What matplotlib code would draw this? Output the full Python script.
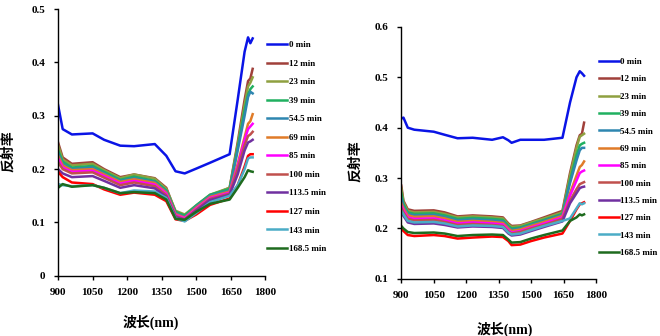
import matplotlib.pyplot as plt

plt.rcParams['font.family'] = ['Liberation Serif', 'Noto Sans CJK SC']
plt.rcParams['font.weight'] = 'bold'

labels = ["0 min", "12 min", "23 min", "39 min", "54.5 min", "69 min", "85 min",
          "100 min", "113.5 min", "127 min", "143 min", "168.5 min"]
colors = ["#0A14E6", "#A0403A", "#8FA040", "#20B060", "#2E86B0", "#E07B28",
          "#FF00FF", "#C0504D", "#7030A0", "#FF0000", "#4BACC6", "#1E6B1E"]

# left panel
wl_a = [900, 920, 960, 1050, 1100, 1170, 1230, 1320, 1370, 1410, 1450, 1500,
        1560, 1645, 1680, 1710, 1725, 1735, 1745]
refl_a = [
    [0.32, 0.275, 0.265, 0.267, 0.255, 0.244, 0.243, 0.247, 0.225, 0.196, 0.192, 0.201, 0.212, 0.228, 0.33, 0.42, 0.447, 0.436, 0.445],
    [0.25, 0.222, 0.21, 0.213, 0.2, 0.185, 0.19, 0.183, 0.165, 0.12, 0.112, 0.13, 0.15, 0.165, 0.25, 0.33, 0.365, 0.37, 0.388],
    [0.245, 0.218, 0.207, 0.21, 0.198, 0.183, 0.19, 0.182, 0.163, 0.122, 0.115, 0.132, 0.152, 0.165, 0.245, 0.32, 0.355, 0.362, 0.372],
    [0.235, 0.214, 0.203, 0.206, 0.195, 0.18, 0.186, 0.178, 0.16, 0.12, 0.113, 0.132, 0.152, 0.163, 0.24, 0.31, 0.34, 0.35, 0.355],
    [0.23, 0.21, 0.2, 0.203, 0.192, 0.178, 0.183, 0.176, 0.158, 0.118, 0.11, 0.13, 0.15, 0.16, 0.235, 0.3, 0.335, 0.345, 0.342],
    [0.225, 0.207, 0.198, 0.2, 0.19, 0.176, 0.181, 0.174, 0.156, 0.116, 0.109, 0.128, 0.148, 0.158, 0.21, 0.26, 0.285, 0.29, 0.303],
    [0.22, 0.203, 0.195, 0.197, 0.187, 0.173, 0.178, 0.171, 0.154, 0.114, 0.108, 0.126, 0.146, 0.156, 0.205, 0.255, 0.275, 0.28, 0.285],
    [0.213, 0.2, 0.192, 0.194, 0.184, 0.17, 0.175, 0.168, 0.151, 0.112, 0.106, 0.124, 0.144, 0.154, 0.2, 0.245, 0.262, 0.265, 0.27],
    [0.2, 0.192, 0.185, 0.187, 0.178, 0.165, 0.17, 0.164, 0.148, 0.11, 0.105, 0.122, 0.142, 0.152, 0.19, 0.235, 0.25, 0.252, 0.255],
    [0.195, 0.185, 0.175, 0.172, 0.162, 0.152, 0.156, 0.152, 0.14, 0.106, 0.103, 0.115, 0.133, 0.145, 0.17, 0.205, 0.225, 0.228, 0.228],
    [0.172, 0.17, 0.168, 0.17, 0.165, 0.155, 0.16, 0.158, 0.146, 0.108, 0.102, 0.118, 0.138, 0.15, 0.17, 0.2, 0.22, 0.222, 0.222],
    [0.165, 0.172, 0.167, 0.17, 0.165, 0.155, 0.157, 0.155, 0.143, 0.107, 0.105, 0.12, 0.135, 0.143, 0.165, 0.185, 0.198, 0.196, 0.195],
]

# right panel
wl_b = [900, 910, 930, 960, 1050, 1100, 1160, 1230, 1320, 1370, 1395, 1410, 1450,
        1500, 1560, 1645, 1680, 1710, 1725, 1735, 1745]
refl_b = [
    [0.418, 0.42, 0.4, 0.396, 0.392, 0.386, 0.379, 0.38, 0.376, 0.381, 0.375, 0.37, 0.376, 0.376, 0.376, 0.38, 0.45, 0.5, 0.512, 0.508, 0.503],
    [0.285, 0.255, 0.238, 0.235, 0.236, 0.232, 0.224, 0.226, 0.224, 0.222, 0.21, 0.205, 0.206, 0.213, 0.222, 0.235, 0.31, 0.365, 0.385, 0.388, 0.41],
    [0.28, 0.252, 0.235, 0.232, 0.233, 0.229, 0.222, 0.224, 0.222, 0.22, 0.208, 0.203, 0.205, 0.212, 0.22, 0.232, 0.305, 0.36, 0.382, 0.385, 0.388],
    [0.27, 0.248, 0.232, 0.229, 0.23, 0.226, 0.219, 0.221, 0.219, 0.217, 0.205, 0.2, 0.202, 0.209, 0.217, 0.229, 0.295, 0.345, 0.365, 0.368, 0.37],
    [0.26, 0.244, 0.229, 0.226, 0.227, 0.223, 0.216, 0.218, 0.216, 0.214, 0.202, 0.197, 0.2, 0.207, 0.215, 0.227, 0.29, 0.335, 0.355, 0.36, 0.36],
    [0.25, 0.24, 0.226, 0.223, 0.224, 0.22, 0.213, 0.215, 0.213, 0.211, 0.2, 0.195, 0.198, 0.205, 0.213, 0.225, 0.27, 0.305, 0.322, 0.326, 0.333],
    [0.245, 0.236, 0.222, 0.219, 0.22, 0.216, 0.21, 0.212, 0.21, 0.208, 0.197, 0.192, 0.195, 0.202, 0.21, 0.222, 0.265, 0.295, 0.31, 0.313, 0.315],
    [0.24, 0.232, 0.219, 0.216, 0.217, 0.213, 0.207, 0.209, 0.207, 0.205, 0.194, 0.19, 0.193, 0.2, 0.207, 0.219, 0.255, 0.278, 0.288, 0.29, 0.292],
    [0.23, 0.225, 0.212, 0.209, 0.21, 0.207, 0.202, 0.204, 0.203, 0.201, 0.19, 0.186, 0.188, 0.195, 0.203, 0.214, 0.25, 0.27, 0.28, 0.282, 0.283],
    [0.2, 0.195, 0.187, 0.185, 0.187, 0.185, 0.18, 0.182, 0.184, 0.183, 0.175, 0.167, 0.168, 0.175, 0.182, 0.19, 0.215, 0.238, 0.248, 0.25, 0.252],
    [0.235, 0.228, 0.215, 0.212, 0.213, 0.21, 0.204, 0.206, 0.205, 0.203, 0.192, 0.188, 0.19, 0.197, 0.205, 0.215, 0.22, 0.24, 0.25, 0.248, 0.25],
    [0.205, 0.2, 0.193, 0.191, 0.192, 0.19, 0.185, 0.187, 0.188, 0.187, 0.178, 0.172, 0.173, 0.18, 0.187, 0.196, 0.215, 0.222, 0.228, 0.226, 0.228],
]

xticks = [900, 1050, 1200, 1350, 1500, 1650, 1800]

fig = plt.figure(figsize=(6.6, 3.36), dpi=100)
ax1 = fig.add_axes([0.088, 0.179, 0.314, 0.794])
ax2 = fig.add_axes([0.608, 0.170, 0.295, 0.750])


def style(ax, wl, refl, ylim, yticks, ytl, leg_xy, spacing):
    for vals, c, lab in zip(refl, colors, labels):
        ax.plot(wl, vals, color=c, lw=1.8, label=lab)
    ax.set_xlim(900, 1800)
    ax.set_ylim(*ylim)
    ax.set_xticks(xticks)
    ax.set_yticks(yticks)
    ax.set_yticklabels(ytl)
    for s in ["top", "right"]:
        ax.spines[s].set_visible(False)
    for s in ["left", "bottom"]:
        ax.spines[s].set_linewidth(1.0)
    ax.tick_params(direction="out", length=3, width=1, labelsize=8, pad=6)
    ax.legend(loc="upper left", bbox_to_anchor=leg_xy, bbox_transform=fig.transFigure,
              frameon=False, fontsize=6.5, handlelength=2.2, handletextpad=0.15,
              labelspacing=spacing, borderpad=0, borderaxespad=0)


style(ax1, wl_a, refl_a, (0, 0.5), [0, 0.1, 0.2, 0.3, 0.4, 0.5],
      ["0", "0.1", "0.2", "0.3", "0.4", "0.5"], (0.405, 0.878), 1.13)
style(ax2, wl_b, refl_b, (0.1, 0.6), [0.1, 0.2, 0.3, 0.4, 0.5, 0.6],
      ["0.1", "0.2", "0.3", "0.4", "0.5", "0.6"], (0.908, 0.828), 1.0)

fig.text(0.228, 0.04, "波长(nm)", ha="center", va="center", fontsize=10)
fig.text(0.765, 0.02, "波长(nm)", ha="center", va="center", fontsize=10)
fig.text(0.013, 0.55, "反射率", rotation=90, ha="center", va="center", fontsize=10)
fig.text(0.538, 0.52, "反射率", rotation=90, ha="center", va="center", fontsize=10)

fig.savefig("out.png", dpi=100, facecolor="white")
